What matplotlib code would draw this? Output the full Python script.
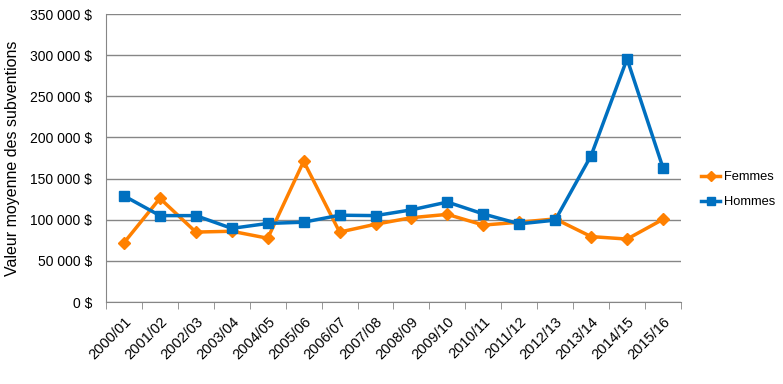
import matplotlib
matplotlib.use("Agg")
import matplotlib.pyplot as plt
from matplotlib.ticker import FuncFormatter
import numpy as np

years = ["2000/01", "2001/02", "2002/03", "2003/04", "2004/05", "2005/06",
         "2006/07", "2007/08", "2008/09", "2009/10", "2010/11", "2011/12",
         "2012/13", "2013/14", "2014/15", "2015/16"]
femmes = [72000, 126000, 85000, 86000, 77500, 171000, 85000, 94500,
          102500, 106500, 93500, 97000, 101000, 79500, 76500, 100500]
hommes = [129000, 105000, 105000, 89500, 95500, 97000, 105500, 105000,
          112000, 121500, 107000, 95000, 99500, 178000, 295500, 163000]

plt.rcParams["font.family"] = ["Liberation Sans", "DejaVu Sans"]

fig = plt.figure(figsize=(7.83, 3.84), dpi=100)
ax = fig.add_axes([0.1354, 0.2135, 0.7343, 0.75])

x = np.arange(len(years))
ax.plot(x, femmes, color="#FF8000", lw=2.5, marker="D", ms=6,
        label="Femmes", zorder=3)
ax.plot(x, hommes, color="#0070C0", lw=2.5, marker="s", ms=7.5,
        label="Hommes", zorder=4)

ax.set_xlim(-0.5, len(years) - 0.5)
ax.set_ylim(0, 350000)
ax.set_yticks(np.arange(0, 350001, 50000))
ax.yaxis.set_major_formatter(
    FuncFormatter(lambda v, p: "{:,.0f} $".format(v).replace(",", " ")))
ax.yaxis.grid(True, color="#868686", lw=1)
ax.set_axisbelow(True)

ax.set_xticks(x)
ax.set_xticklabels(years, rotation=45, ha="right", rotation_mode="anchor")
ax.tick_params(axis="x", length=0, pad=9, labelsize=10.5)
ax.set_xticks(np.arange(-0.5, len(years)), minor=True)
ax.tick_params(axis="x", which="minor", length=5, color="#868686")
ax.tick_params(axis="y", length=0, labelsize=10, pad=10)

for s in ["top", "right"]:
    ax.spines[s].set_visible(False)
for s in ["left", "bottom"]:
    ax.spines[s].set_color("#868686")

ax.set_ylabel("Valeur moyenne des subventions", fontsize=11.5, labelpad=7)

ax.legend(loc="center left", bbox_to_anchor=(1.035, 0.39), frameon=False,
          fontsize=9.3, handlelength=1.5, handletextpad=0.25,
          labelspacing=1.0, markerscale=0.8, borderpad=0,
          borderaxespad=0)

fig.savefig("out.png", dpi=100)
